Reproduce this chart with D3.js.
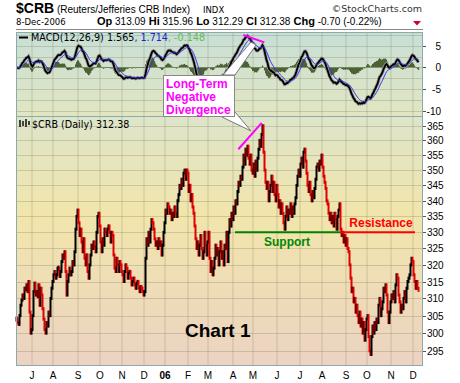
<!DOCTYPE html>
<html>
<head>
<meta charset="utf-8">
<script src="https://cdn.jsdelivr.net/npm/d3@7/dist/d3.min.js"></script>
<style>
body { margin:0; background:#fff; }
text { font-family: "Liberation Sans", Arial, sans-serif; }
</style>
</head>
<body>
<div id="chart-area"></div>
<script>
/*
*  $CRB daily bars with MACD(12,26,9) panel
*/

// Daily closes (mid-Jun 2005 .. 8-Dec-2006)
var closes = [
  304,303,302.5,305,308,309.5,311,310,313,312.5,314,312,315,306,300,301,305,312,314.5,311,
  312,310.5,314,308,313,311,307,304,301,300,303,302,306,305,310,313,315,317,318,316,
  317,319,319,316.5,318,321,323,322,324,318,311,315,317,319,317,318,321,320,324,331,
  335,337,333,329,331,327,324,328,322,320,323,318,316,320,323,326,325,327,325.5,324,
  330,335,336,332,327,324,328,326,331,330,329,331,332,330,327,330,329,323,319,318,
  322,320,318,321,320,318,317,315,318,320,319,316,317.5,318,316,314,315,316,314,313,
  314.5,315,313,312,313.5,313,312,311,312,322,328,326,330,327,331,334,333,331,328,326,
  327,325,328,326,327,323,326,330,333,337,336,339,338,336,337,334,336,335,338,336,
  335,340,342,345,344,347,345,349,350,347,350,349,343,345,340,342,338,336,332,328,
  325,327,323,326,329,325,322,324,330,326,323,327,330,322,318,321,317,319,322,326,
  323,325,320,324,327,322,324,320,326,325,330,321,330,334,332,336,334,338,336,340,
  339,343,346,345,348,347,351,355,352,357,355,358,354,352,355,350,349,352,348,353,
  350,354,357,360,358,362,365,356,350,346,344,346,340,343,345,348,343,346,342,340,
  345,342,338,340,336,339,336,333,331,335,338,334,337,336,339,335,338,336,339,341,
  345,348,350,348,352,354,351,356,357,353,349,345,343,346,342,340,343,341,344,347,
  351,352,350,353,352,355,351,348,346,344,340,339,336,334,336,333,335,332,336,334,
  331,335,337,339,331,329,330,327,329,326,328,325,324,320,316,312,313,309,310,306,
  308,305,303,306,302,304,300,303,298,301,304,305,299,295,294,299,302,300,303,301,
  304,303,308,310,305,307,309,313,312,314,311,306,303,306,309,311,310,312,309,314,
  317,316,311,309,306,308,307,310,312,309,313,315,316,317,320,322,321,317,315,313,
  315,313,312.38
];

// Month grid (bar index of first bar of each month) and labels
var monthTicks  = [16, 37, 62, 84, 106, 128, 149, 172, 192, 217, 237, 261, 284, 306, 330, 351, 375, 397];
var monthLabels = ["J","A","S","O","N","D","06","F","M","A","M","J","J","A","S","O","N","D"];

var priceTicks = [295, 300, 305, 310, 315, 320, 325, 330, 335, 340, 345, 350, 355, 360, 365];
var macdTicks  = [5, 0, -5, -10];
var macdGrid   = [7.5, 5, 2.5, 0, -2.5, -5, -7.5, -10];

// canvas size
const svgWidth = 460,
      svgHeight = 383;

const plot = { left:16, right:423 };
const macdPanel  = { top:32, bottom:116 };
const pricePanel = { top:116, bottom:366 };

var svg = d3.select("#chart-area").append("svg")
    .attr("width", svgWidth)
    .attr("height", svgHeight)
    .style("display", "block");

// gradients
var defs = svg.append("defs");
var gm = defs.append("linearGradient").attr("id", "gMacd")
    .attr("x1", 0).attr("y1", 0).attr("x2", 0).attr("y2", 1);
gm.append("stop").attr("offset", "0%").attr("stop-color", "#c8dfd6");
gm.append("stop").attr("offset", "100%").attr("stop-color", "#e2e6c2");
var gp = defs.append("linearGradient").attr("id", "gPrice")
    .attr("x1", 0).attr("y1", 0).attr("x2", 0).attr("y2", 1);
gp.append("stop").attr("offset", "0%").attr("stop-color", "#dde5ca");
gp.append("stop").attr("offset", "40%").attr("stop-color", "#f2e5ab");
gp.append("stop").attr("offset", "100%").attr("stop-color", "#ecd3c3");

defs.append("clipPath").attr("id", "clipMacd").append("rect")
    .attr("x", plot.left).attr("y", macdPanel.top)
    .attr("width", plot.right-plot.left).attr("height", macdPanel.bottom-macdPanel.top);

// Scales
var xScale = d3.scaleLinear()
    .domain([0, closes.length])
    .range([plot.left, plot.left + closes.length]);
var yScale = d3.scaleLog()
    .domain([290.8, 368.4])
    .range([pricePanel.bottom, pricePanel.top]);
var mScale = d3.scaleLinear()
    .domain([-11.15, 8.13])
    .range([macdPanel.bottom, macdPanel.top]);

// MACD(12,26,9) from the closes
function ema(arr, n){
    var k = 2/(n+1), prev = arr[0];
    return arr.map(function(v, i){
        prev = (i == 0) ? v : v*k + prev*(1-k);
        return prev;
    });
}
var ema12 = ema(closes, 12),
    ema26 = ema(closes, 26);
var macd = closes.map(function(d, i){ return ema12[i] - ema26[i]; });
var signal = ema(macd, 9);
var hist = macd.map(function(d, i){ return d - signal[i]; });

// panel backgrounds
svg.append("rect")
    .attr("x", plot.left).attr("y", macdPanel.top)
    .attr("width", plot.right-plot.left).attr("height", macdPanel.bottom-macdPanel.top)
    .attr("fill", "url(#gMacd)");
svg.append("rect")
    .attr("x", plot.left).attr("y", pricePanel.top)
    .attr("width", plot.right-plot.left).attr("height", pricePanel.bottom-pricePanel.top)
    .attr("fill", "url(#gPrice)");

// grid
var gridColor = "rgba(110,120,90,0.28)";
var grid = svg.append("g").attr("class", "grid");
monthTicks.forEach(function(t){
    grid.append("line")
        .attr("x1", xScale(t)).attr("x2", xScale(t))
        .attr("y1", macdPanel.top).attr("y2", pricePanel.bottom)
        .attr("stroke", gridColor);
});
priceTicks.forEach(function(p){
    grid.append("line")
        .attr("x1", plot.left).attr("x2", plot.right)
        .attr("y1", Math.round(yScale(p))+0.5).attr("y2", Math.round(yScale(p))+0.5)
        .attr("stroke", gridColor);
});
macdGrid.forEach(function(m){
    grid.append("line")
        .attr("x1", plot.left).attr("x2", plot.right)
        .attr("y1", Math.round(mScale(m))+0.5).attr("y2", Math.round(mScale(m))+0.5)
        .attr("stroke", gridColor);
});

// MACD panel
var mg = svg.append("g").attr("clip-path", "url(#clipMacd)");
mg.selectAll("rect.hist").data(hist).enter().append("rect")
    .attr("class", "hist")
    .attr("x", function(d, i){ return xScale(i); })
    .attr("width", 1.2)
    .attr("y", function(d){ return Math.min(mScale(0), mScale(d)); })
    .attr("height", function(d){ return Math.max(0.6, Math.abs(mScale(d) - mScale(0))); })
    .attr("fill", "#4d6233");

var mline = d3.line()
    .x(function(d, i){ return xScale(i+0.5); })
    .y(function(d){ return mScale(d); });
mg.append("path")
    .attr("d", mline(macd))
    .attr("fill", "none")
    .attr("stroke", "#999")
    .attr("stroke-width", 3.4);
mg.append("path")
    .attr("d", mline(macd))
    .attr("fill", "none")
    .attr("stroke", "#000")
    .attr("stroke-width", 1.8);
mg.append("path")
    .attr("d", mline(signal))
    .attr("fill", "none")
    .attr("stroke", "#3333ee")
    .attr("stroke-width", 1);

// price bars (open = previous close); black up, red down
var bars = closes.map(function(c, i){
    var o = i > 0 ? closes[i-1] : c;
    return { i:i, o:o, c:c };
});
function barTop(d){
    var a = yScale(d.o), b = yScale(d.c), m = (a+b)/2;
    return Math.min(Math.min(a, b) - 1.5, m - 2.5);
}
function barBottom(d){
    var a = yScale(d.o), b = yScale(d.c), m = (a+b)/2;
    return Math.max(Math.max(a, b) + 1.5, m + 2.5);
}
svg.append("g").selectAll("line.bar").data(bars).enter().append("line")
    .attr("class", "bar")
    .attr("x1", function(d){ return xScale(d.i+0.5); })
    .attr("x2", function(d){ return xScale(d.i+0.5); })
    .attr("y1", barTop)
    .attr("y2", barBottom)
    .attr("stroke", function(d){ return d.c >= d.o ? "#000" : "#e00000"; })
    .attr("stroke-width", 2);

// panel borders
svg.append("rect")
    .attr("x", plot.left+0.5).attr("y", macdPanel.top+0.5)
    .attr("width", plot.right-plot.left-1).attr("height", macdPanel.bottom-macdPanel.top)
    .attr("fill", "none").attr("stroke", "#8aabab");
svg.append("rect")
    .attr("x", plot.left+0.5).attr("y", pricePanel.top+0.5)
    .attr("width", plot.right-plot.left-1).attr("height", pricePanel.bottom-pricePanel.top-1)
    .attr("fill", "none").attr("stroke", "#8aabab");

// right axes
var ax = svg.append("g").attr("class", "axis").attr("font-size", "10px").attr("fill", "#000");
priceTicks.forEach(function(p){
    var yy = Math.round(yScale(p))+0.5;
    ax.append("line").attr("x1", plot.right).attr("x2", plot.right+3)
        .attr("y1", yy).attr("y2", yy).attr("stroke", "#555");
    ax.append("text").attr("x", plot.right+4).attr("y", yy+3.5).text(p);
});
macdTicks.forEach(function(m){
    var yy = Math.round(mScale(m))+0.5;
    ax.append("line").attr("x1", plot.right).attr("x2", plot.right+3)
        .attr("y1", yy).attr("y2", yy).attr("stroke", "#555");
    ax.append("text").attr("x", 441).attr("y", yy+3.5)
        .attr("text-anchor", "end").text(m);
});

// month labels
monthLabels.forEach(function(l, k){
    svg.append("text")
        .attr("x", xScale(monthTicks[k]))
        .attr("y", 379)
        .attr("text-anchor", "middle")
        .attr("font-size", "10px")
        .attr("font-weight", l == "06" ? "bold" : "normal")
        .text(l);
});

// header
var h1 = svg.append("text").attr("x", 16).attr("y", 13);
h1.append("tspan").attr("font-weight", "bold").attr("font-size", "14px").text("$CRB");
h1.append("tspan").attr("font-size", "10px").text(" (Reuters/Jefferies CRB Index)");
svg.append("text").attr("x", 203).attr("y", 13)
    .style("font-family", "DejaVu Sans").attr("font-size", "8.5px").text("INDX");
svg.append("text").attr("x", 422).attr("y", 12).attr("text-anchor", "end")
    .style("font-family", "DejaVu Sans").attr("font-size", "9.5px").attr("fill", "#333")
    .text("\u00a9StockCharts.com");
svg.append("text").attr("x", 16).attr("y", 25)
    .style("font-family", "DejaVu Sans").attr("font-size", "8.5px").text("8-Dec-2006");

var quote = [["Op", "313.09"], ["Hi", "315.96"], ["Lo", "312.29"], ["Cl", "312.38"], ["Chg", "-0.70 (-0.22%)"]];
var h2 = svg.append("text").attr("x", 97).attr("y", 25);
quote.forEach(function(q, k){
    h2.append("tspan").attr("font-weight", "bold").attr("font-size", "11px").text((k ? " " : "") + q[0]);
    h2.append("tspan").attr("font-size", "10px").text(" " + q[1]);
});
svg.append("path").attr("d", "M413,21 L421,21 L417,25.5 Z").attr("fill", "#cc0033");
svg.append("line").attr("x1", 16).attr("x2", 423).attr("y1", 29.5).attr("y2", 29.5)
    .attr("stroke", "#888");

// panel legends
svg.append("line").attr("x1", 19).attr("x2", 28).attr("y1", 37.5).attr("y2", 37.5)
    .attr("stroke", "#000").attr("stroke-width", 2);
var ml = svg.append("text").attr("x", 31).attr("y", 41)
    .style("font-family", "DejaVu Sans").attr("font-size", "9.6px");
ml.append("tspan").text("MACD(12,26,9) 1.565");
ml.append("tspan").attr("fill", "#2222cc").text(", 1.714");
ml.append("tspan").attr("fill", "#66bb55").text(", -0.148");

var icon = svg.append("g").attr("stroke", "#000").attr("stroke-width", 1.4);
[[20,120,127],[23,121,126],[26,119,127],[29,121,125]].forEach(function(b){
    icon.append("line").attr("x1", b[0]).attr("x2", b[0]).attr("y1", b[1]).attr("y2", b[2]);
});
svg.append("text").attr("x", 32).attr("y", 127.5)
    .style("font-family", "DejaVu Sans").attr("font-size", "9.6px")
    .text("$CRB (Daily) 312.38");

// support / resistance at 330
var lvl = yScale(330);
svg.append("line").attr("x1", xScale(219)).attr("x2", xScale(324))
    .attr("y1", lvl).attr("y2", lvl).attr("stroke", "#008000").attr("stroke-width", 2);
svg.append("line").attr("x1", xScale(324)).attr("x2", xScale(399))
    .attr("y1", lvl).attr("y2", lvl).attr("stroke", "#ff0000").attr("stroke-width", 2);
svg.append("text").attr("x", 287).attr("y", 245.5).attr("text-anchor", "middle")
    .attr("font-weight", "bold").attr("font-size", "12px").attr("fill", "#008800").text("Support");
svg.append("text").attr("x", 381).attr("y", 226.5).attr("text-anchor", "middle")
    .attr("font-weight", "bold").attr("font-size", "12px").attr("fill", "#ff0000").text("Resistance");

// divergence lines
svg.append("line").attr("x1", xScale(222.3)).attr("x2", xScale(245.7))
    .attr("y1", yScale(357)).attr("y2", yScale(366))
    .attr("stroke", "#ff00ff").attr("stroke-width", 2);
svg.append("line").attr("x1", xScale(227.3)).attr("x2", xScale(248.3))
    .attr("y1", mScale(7.44)).attr("y2", mScale(5.76))
    .attr("stroke", "#ff00ff").attr("stroke-width", 2);

// callout
svg.append("path").attr("d", "M223,75 L235,75 L256,45 L251,42 Z")
    .attr("fill", "#fff").attr("stroke", "#777");
svg.append("path").attr("d", "M222,117 L235,112 L251,131 Z")
    .attr("fill", "#fff").attr("stroke", "#777");
svg.append("rect").attr("x", 163.5).attr("y", 75.5).attr("width", 71).attr("height", 41)
    .attr("fill", "#fff").attr("stroke", "#888");
["Long-Term", "Negative", "Divergence"].forEach(function(t, k){
    svg.append("text").attr("x", 166).attr("y", 87.5 + k*13)
        .attr("font-weight", "bold").attr("font-size", "12px").attr("fill", "#ff00ff").text(t);
});

svg.append("text").attr("x", 185).attr("y", 337)
    .attr("font-weight", "bold").attr("font-size", "19px").text("Chart 1");
</script>
</body>
</html>
